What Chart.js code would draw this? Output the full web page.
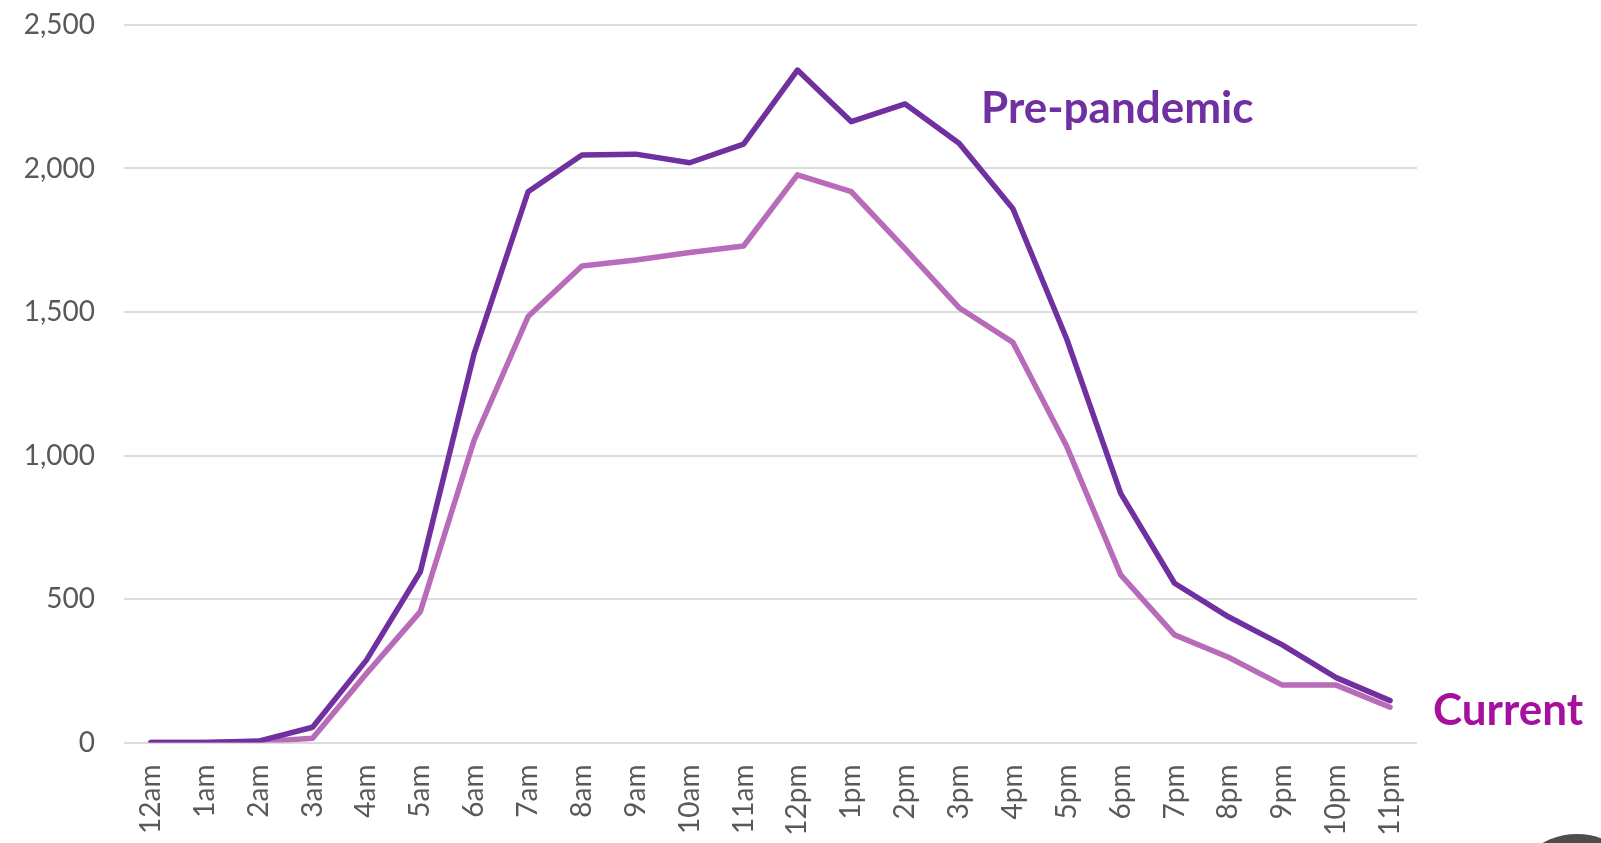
<!DOCTYPE html>
<html>
<head>
<meta charset="utf-8">
<script src="https://cdn.jsdelivr.net/npm/chart.js@4/dist/chart.umd.min.js"></script>
<style>
  html, body { margin: 0; padding: 0; background: #ffffff; }
  #wrap { width: 1601px; height: 843px; position: relative; }
</style>
</head>
<body>
<div id="wrap"><canvas id="c" width="1601" height="843"></canvas></div>
<script>
const hours = ['12am','1am','2am','3am','4am','5am','6am','7am','8am','9am','10am','11am',
               '12pm','1pm','2pm','3pm','4pm','5pm','6pm','7pm','8pm','9pm','10pm','11pm'];
const prePandemic = [0, 0, 5, 53, 287, 595, 1356, 1919, 2047, 2050, 2020, 2085,
                     2343, 2163, 2225, 2088, 1860, 1405, 868, 555, 438, 340, 226, 146];
const current = [0, 0, 2, 15, 240, 456, 1054, 1484, 1660, 1681, 1707, 1730,
                 1978, 1919, 1720, 1515, 1394, 1031, 584, 375, 297, 200, 200, 123];
const yTicks = [0, 500, 1000, 1500, 2000, 2500];
const seriesLabels = ['Pre-pandemic', 'Current'];

const PRE_COLOR = '#7030a0';
const CUR_COLOR = '#b76bb9';
const CUR_TEXT = '#a5119e';
const TICK_COLOR = '#595959';
const FONT = 'Lato, "Open Sans", sans-serif';

const annotationPlugin = {
  id: 'annot',
  afterDraw(chart) {
    const ctx = chart.ctx;
    ctx.save();
    ctx.font = 'bold 44px ' + FONT;
    ctx.textAlign = 'left';
    ctx.textBaseline = 'alphabetic';
    ctx.fillStyle = PRE_COLOR;
    ctx.fillText(seriesLabels[0], 981, 123);
    ctx.fillStyle = CUR_TEXT;
    ctx.fillText(seriesLabels[1], 1433, 725);
    // decorative partial circle at bottom-right corner
    ctx.beginPath();
    ctx.arc(1577, 904, 70, 0, Math.PI * 2);
    ctx.fillStyle = '#4d4d4d';
    ctx.fill();
    ctx.restore();
  }
};

new Chart(document.getElementById('c'), {
  type: 'line',
  data: {
    labels: hours,
    datasets: [
      {
        label: seriesLabels[0],
        data: prePandemic,
        borderColor: PRE_COLOR,
        borderWidth: 5.5,
        pointRadius: 0,
        tension: 0,
        borderCapStyle: 'round',
        borderJoinStyle: 'round',
        order: 0
      },
      {
        label: seriesLabels[1],
        data: current,
        borderColor: CUR_COLOR,
        borderWidth: 5.5,
        pointRadius: 0,
        tension: 0,
        borderCapStyle: 'round',
        borderJoinStyle: 'round',
        order: 1
      }
    ]
  },
  options: {
    responsive: false,
    maintainAspectRatio: false,
    animation: false,
    layout: { padding: { left: 0, right: 184, top: 25, bottom: 0 } },
    plugins: { legend: { display: false }, tooltip: { enabled: false } },
    scales: {
      x: {
        type: 'category',
        offset: true,
        grid: { display: false, drawTicks: false },
        border: { display: false },
        ticks: {
          minRotation: 90, maxRotation: 90,
          autoSkip: false,
          padding: 22,
          color: TICK_COLOR,
          font: { family: FONT, size: 28 }
        },
        afterFit(scale) { scale.height = 100.5; scale.paddingLeft = 0; scale.paddingRight = 0; }
      },
      y: {
        min: 0, max: 2500,
        afterBuildTicks(scale) { scale.ticks = yTicks.map(v => ({ value: v })); },
        grid: { color: '#dcdcdc', lineWidth: 2, drawTicks: false },
        border: { display: false },
        ticks: {
          padding: 29,
          color: TICK_COLOR,
          font: { family: FONT, size: 28 },
          callback: v => v.toLocaleString('en-US')
        },
        afterFit(scale) { scale.width = 124; scale.paddingTop = 0; scale.paddingBottom = 0; }
      }
    }
  },
  plugins: [annotationPlugin]
});
</script>
</body>
</html>
